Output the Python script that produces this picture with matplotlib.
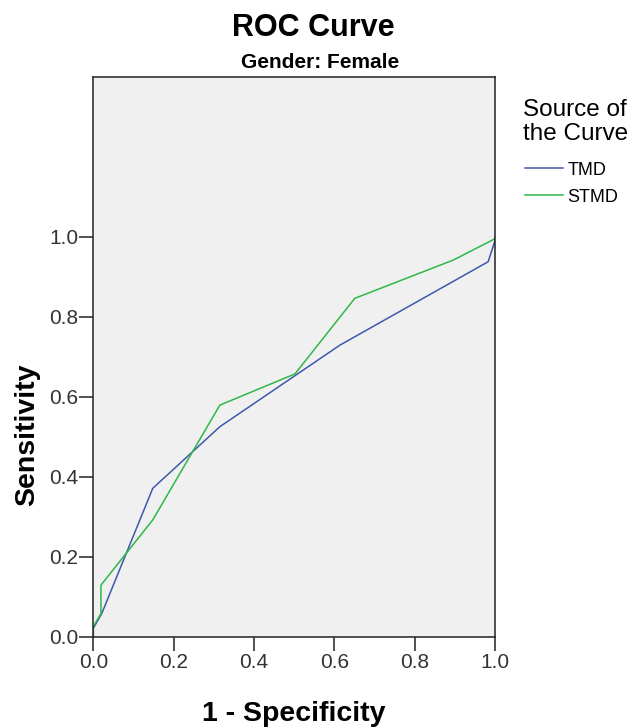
import matplotlib
matplotlib.use("Agg")
import matplotlib.pyplot as plt
from matplotlib.lines import Line2D

plt.rcParams['font.family'] = ['Liberation Sans', 'DejaVu Sans']

# ROC points (1 - specificity, sensitivity)
tmd_fpr = [0.0, 0.0, 0.021, 0.148, 0.315, 0.614, 0.983, 1.0, 1.0]
tmd_tpr = [0.0, 0.021, 0.058, 0.371, 0.525, 0.729, 0.9375, 0.99, 1.0]

stmd_fpr = [0.0, 0.0, 0.019, 0.019, 0.148, 0.315, 0.502, 0.651, 0.897, 1.0, 1.0]
stmd_tpr = [0.0, 0.025, 0.058, 0.129, 0.292, 0.579, 0.657, 0.846, 0.942, 0.995, 1.0]

series_names = ['TMD', 'STMD']
series_colors = ['#3E58AC', '#2EB848']
tick_vals = [0.0, 0.2, 0.4, 0.6, 0.8, 1.0]
tick_labels = ['0.0', '0.2', '0.4', '0.6', '0.8', '1.0']

fig = plt.figure(figsize=(6.44, 7.28), dpi=100)
ax = fig.add_axes([0.1449, 0.1254, 0.6237, 0.7692])
ax.set_facecolor('#F0F0F0')

ax.plot(tmd_fpr, tmd_tpr, color=series_colors[0], lw=1.1)
ax.plot(stmd_fpr, stmd_tpr, color=series_colors[1], lw=1.1)

ax.set_xlim(0, 1)
ax.set_ylim(0, 1.4)
ax.set_xticks(tick_vals)
ax.set_xticklabels(tick_labels)
ax.set_yticks(tick_vals)
ax.set_yticklabels(tick_labels)
ax.tick_params(axis='both', direction='out', length=10, width=1.1,
               color='#222222', labelsize=15, labelcolor='#333333')
ax.tick_params(axis='x', pad=2)
ax.tick_params(axis='y', pad=1)
for sp in ax.spines.values():
    sp.set_linewidth(1.1)
    sp.set_color('#222222')

ax.set_xlabel('1 - Specificity', fontsize=20.5, fontweight='bold', va='baseline')
ax.xaxis.set_label_coords(0.5, -0.1514)
ax.set_ylabel('Sensitivity', fontsize=20.5, fontweight='bold', va='center')
ax.yaxis.set_label_coords(-0.1638, 0.36)

fig.text(0.487, 0.9505, 'ROC Curve', fontsize=22, fontweight='bold',
         ha='center', va='baseline')
fig.text(0.497, 0.9066, 'Gender: Female', fontsize=15, fontweight='bold',
         ha='center', va='baseline')

# legend title drawn on its own so the gap to the entries matches
fig.text(0.812, 0.8077, 'Source of\nthe Curve', fontsize=17.5,
         ha='left', va='baseline', linespacing=1.1)

handles = [Line2D([], [], color=c, lw=1.1) for c in series_colors]
ax.legend(handles, series_names, loc='upper left',
          bbox_to_anchor=(0.815, 0.778), bbox_transform=fig.transFigure,
          frameon=False, fontsize=13, handlelength=2.1, handletextpad=0.25,
          labelspacing=0.56, borderpad=0, borderaxespad=0)

fig.savefig('out.png', dpi=100)
